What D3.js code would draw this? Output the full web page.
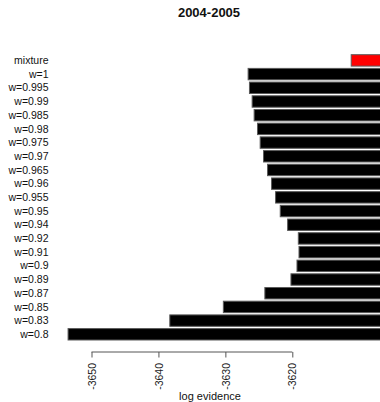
<!DOCTYPE html>
<html>
<head>
<meta charset="utf-8">
<script src="https://cdn.jsdelivr.net/npm/d3@7"></script>
<style>
  html, body { margin: 0; padding: 0; background: #fff; }
  svg { display: block; font-family: Arial, "Liberation Sans", sans-serif; }
</style>
</head>
<body>
<svg id="chart" width="380" height="402"></svg>
<script>
// Log evidence per weight setting, 2004-2005 season
const categories = ["mixture", "w=1", "w=0.995", "w=0.99", "w=0.985", "w=0.98", "w=0.975",
  "w=0.97", "w=0.965", "w=0.96", "w=0.955", "w=0.95", "w=0.94", "w=0.92", "w=0.91",
  "w=0.9", "w=0.89", "w=0.87", "w=0.85", "w=0.83", "w=0.8"];
const logEvidence = [-3611.2, -3626.6, -3626.4, -3626.0, -3625.7, -3625.2, -3624.8,
  -3624.3, -3623.7, -3623.1, -3622.5, -3621.8, -3620.7, -3619.1, -3619.0,
  -3619.3, -3620.2, -3624.1, -3630.3, -3638.3, -3653.5];
const barColors = ["#ff0000"].concat(d3.range(20).map(() => "#000000"));
const tickValues = [-3650, -3640, -3630, -3620];

const W = 380, H = 402;
const svg = d3.select("#chart");

const x = d3.scaleLinear().domain([-3650, -3620]).range([91.5, 292.3]);
const y = d3.scaleBand().domain(categories).range([54.7, 340])
  .paddingInner(0.2 / 1.2).paddingOuter(0);

const rows = categories.map((c, i) => ({ c, v: logEvidence[i], col: barColors[i] }));

// Bars run from the value toward zero; they spill past the plot region to the page edge
svg.append("g").selectAll("rect").data(rows).join("rect")
  .attr("x", d => x(d.v))
  .attr("y", d => y(d.c))
  .attr("width", d => Math.min(x(0), W + 5) - x(d.v))
  .attr("height", y.bandwidth())
  .attr("fill", d => d.col)
  .attr("stroke", "#5a5a5a")
  .attr("stroke-width", 1);

// Category labels
svg.append("g").selectAll("text").data(rows).join("text")
  .attr("x", 48.5)
  .attr("y", d => y(d.c) + y.bandwidth() / 2)
  .attr("dy", "0.35em")
  .attr("text-anchor", "end")
  .attr("font-size", "10.5px")
  .attr("fill", "#111")
  .text(d => d.c);

// Bottom axis with rotated tick labels (plain hyphen for the sign)
const axisY = 352;
const axis = svg.append("g").attr("transform", `translate(0,${axisY})`)
  .call(d3.axisBottom(x).tickValues(tickValues).tickSize(5.5).tickSizeOuter(0)
    .tickFormat(d => String(d)));
axis.select(".domain").attr("stroke", "#555").attr("d", `M${x(-3650)},0H${x(-3620)}`);
axis.selectAll(".tick line").attr("stroke", "#555");
axis.selectAll(".tick text")
  .attr("transform", "rotate(-90)")
  .attr("x", -11)
  .attr("y", 0)
  .attr("dy", "0.35em")
  .attr("text-anchor", "end")
  .attr("font-size", "10.5px")
  .attr("font-family", "Arial, 'Liberation Sans', sans-serif")
  .attr("fill", "#222");

// Axis title
svg.append("text")
  .attr("x", 210).attr("y", 400)
  .attr("text-anchor", "middle")
  .attr("font-size", "11px")
  .attr("fill", "#111")
  .text("log evidence");

// Chart title
svg.append("text")
  .attr("x", 209).attr("y", 17)
  .attr("text-anchor", "middle")
  .attr("font-size", "13px")
  .attr("font-weight", "bold")
  .attr("fill", "#111")
  .text("2004-2005");
</script>
</body>
</html>
